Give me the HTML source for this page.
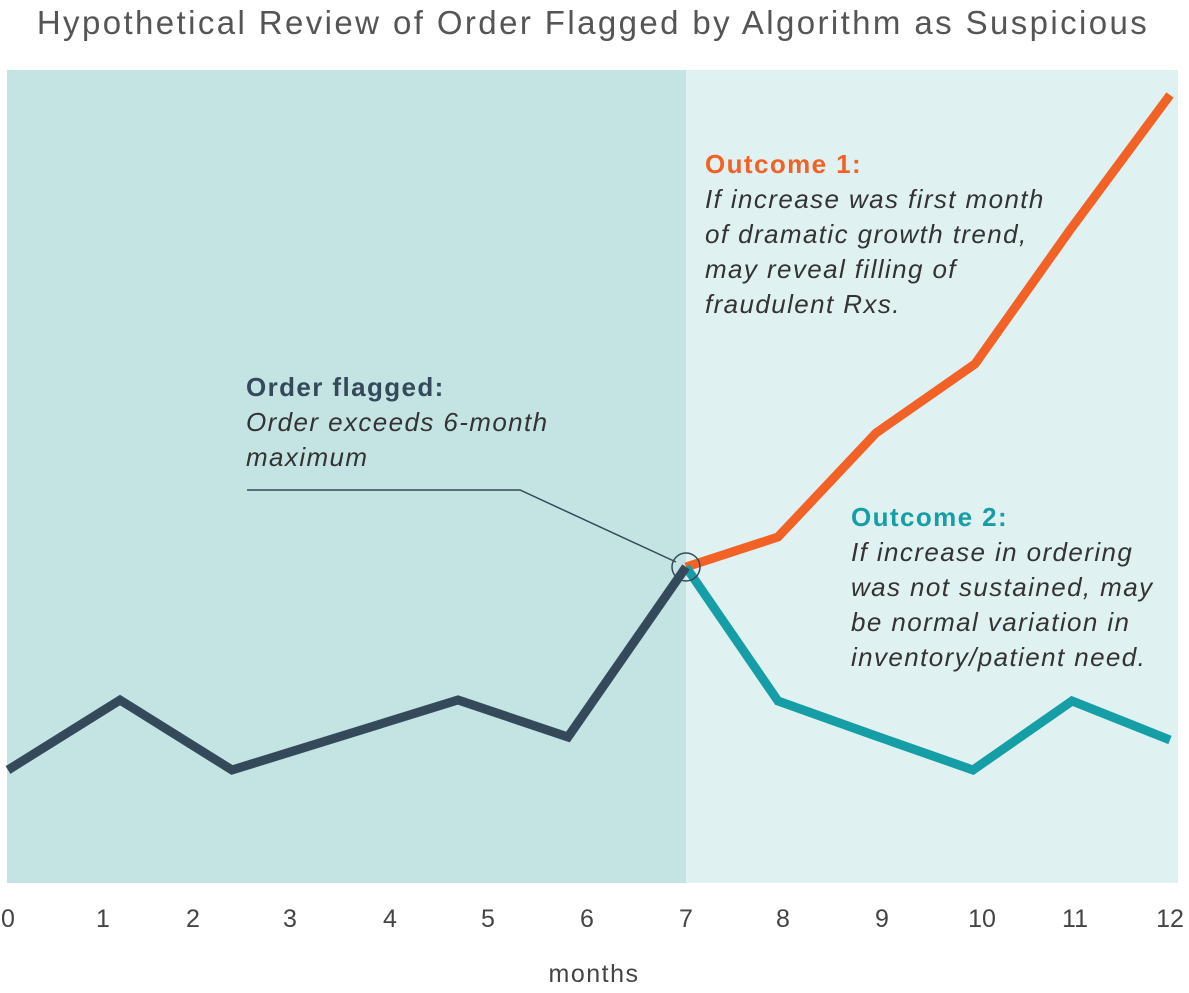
<!DOCTYPE html>
<html><head><meta charset="utf-8"><style>
html,body{margin:0;padding:0;background:#fff;}
svg{display:block;}
text{font-family:"Liberation Sans",sans-serif;}
</style></head><body>
<svg width="1189" height="993" viewBox="0 0 1189 993" xmlns="http://www.w3.org/2000/svg">
<rect width="1189" height="993" fill="#fff"/>
<text x="593" y="34" text-anchor="middle" font-size="33" letter-spacing="2.4" fill="#555">Hypothetical Review of Order Flagged by Algorithm as Suspicious</text>
<rect x="7" y="70" width="679" height="813" fill="#c3e4e3"/>
<rect x="686" y="70" width="492" height="813" fill="#e0f1f1"/>
<polyline points="247,490 520,490 676,562" fill="none" stroke="#344a5a" stroke-width="1.5"/>
<polyline points="686,567 778,537 876,433 975,364 1070,230 1170,95" fill="none" stroke="#f26126" stroke-width="9" stroke-linejoin="miter"/>
<polyline points="686,567 778,701 876,736 973,770 1072,701 1170,740" fill="none" stroke="#169ea6" stroke-width="9"/>
<polyline points="8,770 120,700 232,770 458,700 568,737 686,567" fill="none" stroke="#344a5a" stroke-width="9"/>
<circle cx="686" cy="567" r="14" fill="none" stroke="#344a5a" stroke-width="1.5"/>
<g font-size="26" fill="#333" letter-spacing="1.4">
<text x="246" y="396" font-weight="bold" fill="#344a5a">Order flagged:</text>
<text x="246" y="431" font-style="italic">Order exceeds 6-month</text>
<text x="246" y="466" font-style="italic">maximum</text>
<text x="705" y="173" font-weight="bold" fill="#f26126">Outcome 1:</text>
<text x="705" y="208" font-style="italic">If increase was first month</text>
<text x="705" y="243" font-style="italic">of dramatic growth trend,</text>
<text x="705" y="278" font-style="italic">may reveal filling of</text>
<text x="705" y="313" font-style="italic">fraudulent Rxs.</text>
<text x="851" y="526" font-weight="bold" fill="#169ea6">Outcome 2:</text>
<text x="851" y="561" font-style="italic">If increase in ordering</text>
<text x="851" y="596" font-style="italic">was not sustained, may</text>
<text x="851" y="631" font-style="italic">be normal variation in</text>
<text x="851" y="666" font-style="italic">inventory/patient need.</text>
</g>
<g font-size="25" fill="#444" text-anchor="middle">
<text x="8" y="927">0</text><text x="103" y="927">1</text><text x="193" y="927">2</text><text x="290" y="927">3</text><text x="390" y="927">4</text><text x="488" y="927">5</text><text x="587" y="927">6</text><text x="686" y="927">7</text><text x="783" y="927">8</text><text x="882" y="927">9</text><text x="982" y="927">10</text><text x="1075" y="927">11</text><text x="1170" y="927">12</text>
<text x="594" y="982" letter-spacing="1.5">months</text>
</g>
</svg>
</body></html>
